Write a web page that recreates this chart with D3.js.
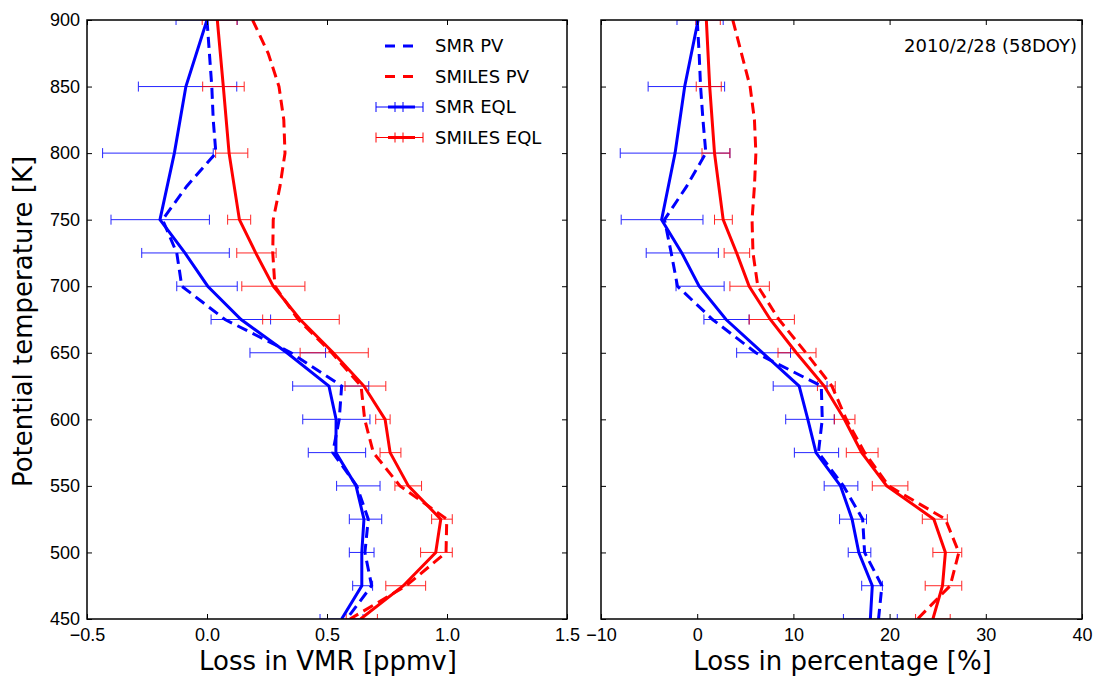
<!DOCTYPE html>
<html>
<head>
<meta charset="utf-8">
<script src="https://cdn.jsdelivr.net/npm/d3@7"></script>
<style>
  body { margin: 0; background: #fff; }
  svg { font-family: "DejaVu Sans", sans-serif; }
  .axis path { display: none; }
  .axis line { stroke: #000; stroke-width: 1; }
  .axis text { font-size: 18px; fill: #000; }
</style>
</head>
<body>
<div id="chart"></div>
<script>
"use strict";

// potential temperature levels [K]
var levelsEQL = [900, 850, 800, 750, 725, 700, 675, 650, 625, 600, 575, 550, 525, 500, 475, 450];
var levelsPV = [900, 875, 850, 825, 800, 775, 750, 725, 700, 675, 650, 625, 600, 575, 550, 525, 500, 475, 450];

// loss in VMR [ppmv]
var smrPvVmr = [0.0, 0.01, 0.02, 0.026, 0.037, -0.085, -0.185, -0.126, -0.105, 0.075, 0.35, 0.561, 0.551, 0.524, 0.624, 0.672, 0.658, 0.686, 0.582];
var smilesPvVmr = [0.19, 0.255, 0.30, 0.32, 0.325, 0.304, 0.276, 0.274, 0.283, 0.38, 0.52, 0.642, 0.657, 0.693, 0.804, 0.999, 0.996, 0.83, 0.596];
var smrEqlVmr = [0.0, -0.088, -0.136, -0.196, -0.092, 0.003, 0.142, 0.333, 0.508, 0.538, 0.537, 0.621, 0.654, 0.645, 0.645, 0.561];
var smrEqlVmrLo = [-0.129, -0.286, -0.435, -0.40, -0.272, -0.126, 0.017, 0.179, 0.357, 0.399, 0.422, 0.54, 0.593, 0.593, 0.607, 0.471];
var smrEqlVmrHi = [0.126, 0.124, 0.026, 0.01, 0.093, 0.126, 0.265, 0.494, 0.674, 0.679, 0.661, 0.721, 0.728, 0.696, 0.69, 0.65];
var smilesEqlVmr = [0.043, 0.068, 0.092, 0.135, 0.203, 0.276, 0.388, 0.526, 0.654, 0.742, 0.763, 0.839, 0.974, 0.953, 0.818, 0.64];
var smilesEqlVmrLo = [-0.02, -0.018, 0.036, 0.086, 0.124, 0.145, 0.232, 0.388, 0.575, 0.703, 0.721, 0.783, 0.936, 0.89, 0.745, 0.58];
var smilesEqlVmrHi = [0.125, 0.155, 0.17, 0.182, 0.288, 0.408, 0.551, 0.672, 0.745, 0.763, 0.808, 0.894, 1.022, 1.022, 0.911, 0.71];

// loss in percentage [%]
var smrPvPct = [0.0, 0.2, 0.35, 0.6, 0.9, -1.1, -3.4, -2.7, -2.05, 1.6, 6.1, 12.9, 13.0, 12.6, 15.2, 17.2, 17.4, 19.2, 18.85];
var smilesPvPct = [3.7, 4.6, 5.5, 5.95, 6.1, 5.95, 5.7, 5.8, 6.3, 8.5, 11.3, 14.0, 15.5, 17.4, 19.9, 25.8, 27.2, 26.3, 22.9];
var smrEqlPct = [0.1, -1.3, -2.3, -3.7, -1.6, 0.2, 3.0, 6.8, 10.6, 11.5, 12.35, 14.9, 16.1, 16.8, 18.2, 18.0];
var smrEqlPctLo = [-2.1, -5.1, -8.0, -7.9, -5.3, -2.2, 0.7, 4.1, 7.9, 9.2, 10.1, 13.2, 14.8, 15.7, 17.1, 15.2];
var smrEqlPctHi = [2.7, 2.85, 3.4, 0.6, 2.2, 2.8, 5.4, 9.7, 13.5, 14.25, 14.7, 16.7, 17.6, 18.05, 19.25, 20.8];
var smilesEqlPct = [0.95, 1.3, 1.8, 2.7, 4.1, 5.4, 7.6, 10.3, 13.2, 15.3, 17.1, 19.7, 24.6, 25.8, 25.5, 24.5];
var smilesEqlPctLo = [-0.15, -0.1, 0.5, 1.8, 2.8, 3.4, 5.4, 8.4, 12.5, 14.25, 15.5, 18.2, 23.4, 24.5, 23.7, 22.7];
var smilesEqlPctHi = [2.4, 2.5, 3.4, 3.65, 5.45, 7.5, 10.1, 12.35, 14.35, 16.4, 18.8, 21.9, 26.0, 27.5, 27.5, 26.3];

var yTicks = [450, 500, 550, 600, 650, 700, 750, 800, 850, 900];
var vmrTicks = [-0.5, 0.0, 0.5, 1.0, 1.5];
var pctTicks = [-10, 0, 10, 20, 30, 40];

var legendLabels = ["SMR PV", "SMILES PV", "SMR EQL", "SMILES EQL"];
var dateLabel = "2010/2/28 (58DOY)";

var BLUE = "#0000ff", RED = "#ff0000";

var svg = d3.select("#chart").append("svg")
    .attr("width", 1098)
    .attr("height", 681);

var plotTop = 20, plotBottom = 619;
var y = d3.scaleLinear().domain([450, 900]).range([plotBottom, plotTop]);

function zip(xs, ys) {
    return xs.map(function (v, i) { return [v, ys[i]]; });
}

function drawPanel(opt) {
    var x = d3.scaleLinear().domain(opt.domain).range([opt.left, opt.right]);
    var w = opt.right - opt.left, h = plotBottom - plotTop;

    var clipId = "clip-" + opt.name;
    svg.append("clipPath").attr("id", clipId)
        .append("rect").attr("x", opt.left).attr("y", plotTop).attr("width", w).attr("height", h);

    var line = d3.line()
        .x(function (d) { return x(d[0]); })
        .y(function (d) { return y(d[1]); });

    var g = svg.append("g").attr("clip-path", "url(#" + clipId + ")");

    // error bars
    opt.eql.forEach(function (s) {
        var bars = g.append("g")
            .attr("stroke", s.color)
            .attr("stroke-width", 1)
            .attr("opacity", 0.85);
        levelsEQL.forEach(function (lev, i) {
            var yy = y(lev), x0 = x(s.lo[i]), x1 = x(s.hi[i]);
            bars.append("line").attr("x1", x0).attr("x2", x1).attr("y1", yy).attr("y2", yy);
            bars.append("line").attr("x1", x0).attr("x2", x0).attr("y1", yy - 5).attr("y2", yy + 5);
            bars.append("line").attr("x1", x1).attr("x2", x1).attr("y1", yy - 5).attr("y2", yy + 5);
        });
    });

    // PV dashed lines
    opt.pv.forEach(function (s) {
        g.append("path")
            .datum(zip(s.values, levelsPV))
            .attr("fill", "none")
            .attr("stroke", s.color)
            .attr("stroke-width", 3)
            .attr("stroke-dasharray", "11,6")
            .attr("d", line);
    });

    // EQL solid lines
    opt.eql.forEach(function (s) {
        g.append("path")
            .datum(zip(s.values, levelsEQL))
            .attr("fill", "none")
            .attr("stroke", s.color)
            .attr("stroke-width", 3)
            .attr("stroke-linejoin", "miter")
            .attr("d", line);
    });

    // axes, ticks point inward
    svg.append("g").attr("class", "axis")
        .attr("transform", "translate(0," + plotBottom + ")")
        .call(d3.axisBottom(x).tickValues(opt.ticks).tickSize(-5).tickPadding(9).tickFormat(opt.fmt));
    svg.append("g").attr("class", "axis")
        .attr("transform", "translate(0," + plotTop + ")")
        .call(d3.axisTop(x).tickValues(opt.ticks).tickSize(-5).tickFormat(""));
    svg.append("g").attr("class", "axis")
        .attr("transform", "translate(" + opt.left + ",0)")
        .call(d3.axisLeft(y).tickValues(yTicks).tickSize(-5).tickPadding(7)
            .tickFormat(opt.yLabels ? d3.format("d") : ""));
    svg.append("g").attr("class", "axis")
        .attr("transform", "translate(" + opt.right + ",0)")
        .call(d3.axisRight(y).tickValues(yTicks).tickSize(-5).tickFormat(""));

    svg.append("rect")
        .attr("x", opt.left).attr("y", plotTop)
        .attr("width", w).attr("height", h)
        .attr("fill", "none")
        .attr("stroke", "#000")
        .attr("stroke-width", 1.5);

    svg.append("text")
        .attr("x", (opt.left + opt.right) / 2 + 1)
        .attr("y", 670)
        .attr("text-anchor", "middle")
        .attr("font-size", "26px")
        .text(opt.xLabel);

    return x;
}

drawPanel({
    name: "vmr", left: 87, right: 567, domain: [-0.5, 1.5],
    ticks: vmrTicks, fmt: d3.format(".1f"), yLabels: true,
    xLabel: "Loss in VMR [ppmv]",
    pv: [{ values: smrPvVmr, color: BLUE }, { values: smilesPvVmr, color: RED }],
    eql: [
        { values: smrEqlVmr, lo: smrEqlVmrLo, hi: smrEqlVmrHi, color: BLUE },
        { values: smilesEqlVmr, lo: smilesEqlVmrLo, hi: smilesEqlVmrHi, color: RED }
    ]
});

drawPanel({
    name: "pct", left: 601, right: 1082, domain: [-10, 40],
    ticks: pctTicks, fmt: d3.format("d"), yLabels: false,
    xLabel: "Loss in percentage [%]",
    pv: [{ values: smrPvPct, color: BLUE }, { values: smilesPvPct, color: RED }],
    eql: [
        { values: smrEqlPct, lo: smrEqlPctLo, hi: smrEqlPctHi, color: BLUE },
        { values: smilesEqlPct, lo: smilesEqlPctLo, hi: smilesEqlPctHi, color: RED }
    ]
});

svg.append("text")
    .attr("transform", "translate(32," + ((plotTop + plotBottom) / 2 + 2) + ") rotate(-90)")
    .attr("text-anchor", "middle")
    .attr("font-size", "26px")
    .text("Potential temperature [K]");

svg.append("text")
    .attr("x", 1077)
    .attr("y", 52)
    .attr("text-anchor", "end")
    .attr("font-size", "18px")
    .text(dateLabel);

// legend (no frame)
var legendColors = [BLUE, RED, BLUE, RED];
var legend = svg.append("g");
legendLabels.forEach(function (lab, i) {
    var ly = 46 + i * 30.5;
    var row = legend.append("g").attr("transform", "translate(0," + ly + ")");
    if (i < 2) {
        row.append("line")
            .attr("x1", 385).attr("x2", 414).attr("y1", 0).attr("y2", 0)
            .attr("stroke", legendColors[i]).attr("stroke-width", 3)
            .attr("stroke-dasharray", "10,8");
    } else {
        row.append("line")
            .attr("x1", 376).attr("x2", 423).attr("y1", 0).attr("y2", 0)
            .attr("stroke", legendColors[i]).attr("stroke-width", 1);
        row.append("line")
            .attr("x1", 388).attr("x2", 415).attr("y1", 0).attr("y2", 0)
            .attr("stroke", legendColors[i]).attr("stroke-width", 3);
        [376, 395, 403, 423].forEach(function (tx) {
            row.append("line")
                .attr("x1", tx).attr("x2", tx).attr("y1", -5).attr("y2", 5)
                .attr("stroke", legendColors[i]).attr("stroke-width", 1);
        });
    }
    row.append("text")
        .attr("x", 435).attr("y", 0).attr("dy", "0.35em")
        .attr("font-size", "18px")
        .text(lab);
});
</script>
</body>
</html>
